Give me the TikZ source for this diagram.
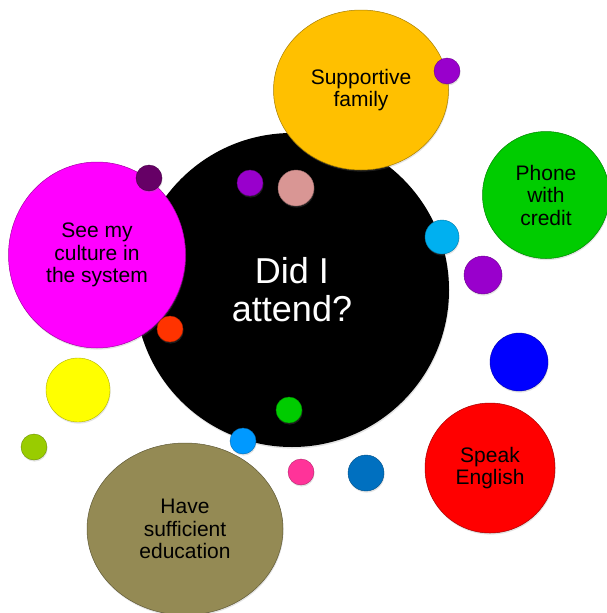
\documentclass[tikz,border=0pt]{standalone}
\usepackage{fontspec}
\setmainfont{Liberation Sans}
\usetikzlibrary{shapes.geometric,shadows}

\definecolor{famorange}{HTML}{FFC000}
\definecolor{phonegreen}{HTML}{00CC00}
\definecolor{culturemag}{HTML}{FF00FF}
\definecolor{eduolive}{HTML}{948A54}
\definecolor{engred}{HTML}{FF0000}
\definecolor{dotpurple}{HTML}{9900CC}
\definecolor{dotplum}{HTML}{660066}
\definecolor{dotrose}{HTML}{D99694}
\definecolor{dotsky}{HTML}{00B0F0}
\definecolor{dotblue}{HTML}{0000FF}
\definecolor{dotvermil}{HTML}{FF3300}
\definecolor{dotyellow}{HTML}{FFFF00}
\definecolor{dotlime}{HTML}{99CC00}
\definecolor{dotgreen}{HTML}{00CC00}
\definecolor{dotazure}{HTML}{0099FF}
\definecolor{dotpink}{HTML}{FF3399}
\definecolor{dotsteel}{HTML}{0070C0}

\begin{document}
\begin{tikzpicture}[x=1pt,y=-1pt,
  shade/.style={drop shadow={shadow xshift=0.6pt,shadow yshift=-1.6pt,opacity=0.22}},
  bubble/.style={circle,inner sep=0pt,line width=0.5pt,shade,
    fill=#1,draw=#1!65!black,minimum size=2*\r},
  oval/.style={ellipse,inner sep=0pt,line width=0.5pt,shade,
    fill=#1,draw=#1!65!black},
  label/.style={align=center,font=\fontsize{21}{22.5}\selectfont},
  dot/.style={circle,inner sep=0pt,line width=0.4pt,shade,
    fill=#1,draw=#1!70!black}
]
\useasboundingbox (0,0) rectangle (606,613);

% central question
\node[circle,inner sep=0pt,fill=black,minimum size=314pt,shade,
      text=white,align=center,font=\fontsize{36}{38}\selectfont]
  (attend) at (292,290) {Did I\\attend?};

% factor bubbles
\node[oval=famorange,minimum width=175pt,minimum height=160pt,label]
  (family) at (361,90) {Supportive\\family};
\node[oval=phonegreen,minimum width=127pt,minimum height=127pt,label]
  (phone) at (546,195) {Phone\\with\\credit};
\node[oval=culturemag,minimum width=177pt,minimum height=186pt,label]
  (culture) at (97,255) {See my\\culture in\\the system};
\node[oval=eduolive,minimum width=196pt,minimum height=172pt,label]
  (education) at (185,529) {Have\\sufficient\\education};
\node[oval=engred,minimum width=130pt,minimum height=130pt,label]
  (english) at (490,468) {Speak\\English};

% small dots
\node[dot=dotpurple,minimum size=26pt] (d1) at (447,71) {};
\node[dot=dotplum,minimum size=26pt] (d2) at (149,178) {};
\node[dot=dotpurple,minimum size=26pt] (d3) at (250,183) {};
\node[dot=dotrose,minimum size=36pt] (d4) at (296,188) {};
\node[dot=dotsky,minimum size=34pt] (d5) at (442,237) {};
\node[dot=dotpurple,minimum size=38pt] (d6) at (483,275) {};
\node[dot=dotblue,minimum size=58pt] (d7) at (519,362) {};
\node[dot=dotvermil,minimum size=26pt] (d8) at (170,329) {};
\node[dot=dotyellow,minimum size=64pt] (d9) at (78,390) {};
\node[dot=dotlime,minimum size=26pt] (d10) at (34,447) {};
\node[dot=dotgreen,minimum size=26pt] (d11) at (289,410) {};
\node[dot=dotazure,minimum size=26pt] (d12) at (243,441) {};
\node[dot=dotpink,minimum size=26pt] (d13) at (301,472) {};
\node[dot=dotsteel,minimum size=36pt] (d14) at (366,473) {};
\end{tikzpicture}
\end{document}
